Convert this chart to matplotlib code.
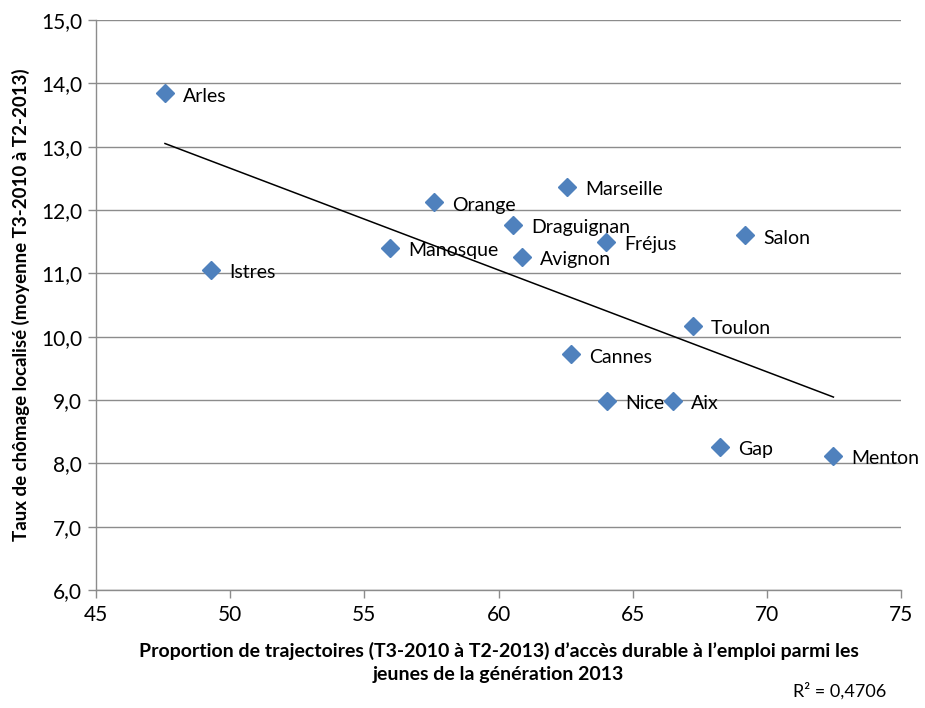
import numpy as np
import matplotlib
matplotlib.use("Agg")
import matplotlib.pyplot as plt

plt.rcParams["font.family"] = ["Lato", "DejaVu Sans"]

# data
villes = ["Arles", "Istres", "Manosque", "Orange", "Draguignan", "Avignon",
          "Marseille", "Fréjus", "Salon", "Cannes", "Toulon", "Nice", "Aix",
          "Gap", "Menton"]
acces_emploi = [47.57, 49.29, 55.95, 57.61, 60.55, 60.87,
                62.57, 64.0, 69.19, 62.7, 67.25, 64.06, 66.49,
                68.26, 72.48]
chomage = [13.84, 11.05, 11.4, 12.12, 11.76, 11.26,
           12.36, 11.5, 11.6, 9.72, 10.17, 8.99, 8.99,
           8.26, 8.12]
r2_label = "R² = 0,4706"

x = np.array(acces_emploi)
y = np.array(chomage)

fig = plt.figure(figsize=(9.25, 7.08), dpi=100)
ax = fig.add_axes([0.1038, 0.1667, 0.8703, 0.8051])

ax.plot(x, y, linestyle="none", marker="D", markersize=9,
        color="#4F81BD", zorder=3)

# linear trend
a, b = np.polyfit(x, y, 1)
xt = np.array([x.min(), x.max()])
ax.plot(xt, a * xt + b, color="black", linewidth=1.1, zorder=2)

for v, xi, yi in zip(villes, x, y):
    ax.annotate(v, (xi, yi), xytext=(13, -2), textcoords="offset points",
                va="center", ha="left", fontsize=14, color="black", zorder=4)

ax.set_xlim(45, 75)
ax.set_ylim(6, 15)
ax.set_xticks(range(45, 76, 5))
ax.set_yticks(np.arange(6, 15.01, 1))
ax.set_yticklabels([f"{t:.1f}".replace(".", ",") for t in np.arange(6, 15.01, 1)])
ax.yaxis.grid(True, color="#8c8c8c", linewidth=1)
ax.set_axisbelow(True)
for s in ["top", "right"]:
    ax.spines[s].set_visible(False)
for s in ["left", "bottom"]:
    ax.spines[s].set_color("#8c8c8c")
    ax.spines[s].set_linewidth(1)
ax.tick_params(axis="both", colors="#8c8c8c", labelcolor="black",
               labelsize=15, length=6, width=1)
ax.tick_params(axis="x", pad=5)
ax.tick_params(axis="y", pad=4)

ax.set_xlabel("Proportion de trajectoires (T3-2010 à T2-2013) d’accès durable à l’emploi parmi les\n"
              "jeunes de la génération 2013", fontsize=14, fontweight="bold",
              linespacing=1.4, labelpad=12)
ax.set_ylabel("Taux de chômage localisé (moyenne T3-2010 à T2-2013)", fontsize=13.5,
              fontweight="bold", labelpad=8)

fig.text(0.958, 0.012, r2_label, ha="right", va="bottom", fontsize=13)

fig.savefig("out.png", dpi=100)
